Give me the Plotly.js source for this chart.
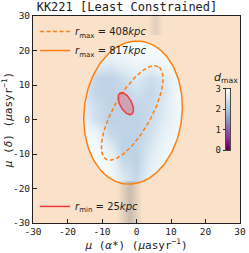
<!DOCTYPE html>
<html>
<head>
<meta charset="utf-8">
<script src="https://cdn.plot.ly/plotly-3.0.1.min.js"></script>
<style>html,body{margin:0;padding:0;background:#fff;}#chart{width:249px;height:253px;}</style>
</head>
<body>
<div id="chart"></div>
<script>
// ---- d_max field (coarse grid) ----
const xGrid = [-16, -12, -8, -4, 0, 4, 8, 12, 16];
const yGrid = [-20, -16, -12, -8, -4, 0, 4, 8, 12, 16, 20, 24];
const dmax = [
  [3.0, 3.0, 3.0, 2.65, 2.35, 2.85, 3.0, 3.0, 3.0],
  [3.0, 3.0, 2.95, 2.55, 2.3, 2.75, 2.95, 3.0, 3.0],
  [3.0, 3.0, 2.9, 2.35, 2.25, 2.65, 2.9, 3.0, 3.0],
  [3.0, 2.95, 2.65, 2.25, 2.25, 2.55, 2.85, 3.0, 3.0],
  [2.95, 2.85, 2.35, 2.25, 2.25, 2.45, 2.75, 2.95, 3.0],
  [2.8, 2.45, 2.25, 2.25, 2.25, 2.4, 2.65, 2.9, 3.0],
  [2.7, 2.4, 2.25, 2.25, 2.3, 2.35, 2.6, 2.9, 3.0],
  [2.6, 2.3, 2.25, 2.3, 2.45, 2.3, 2.55, 2.9, 3.0],
  [2.6, 2.3, 2.25, 2.4, 2.6, 2.4, 2.6, 2.9, 3.0],
  [2.9, 2.7, 2.55, 2.7, 2.85, 2.8, 2.9, 3.0, 3.0],
  [3.0, 3.0, 2.95, 2.95, 3.0, 3.0, 3.0, 3.0, 3.0],
  [3.0, 3.0, 3.0, 3.0, 3.0, 3.0, 3.0, 3.0, 3.0]
];
const cbarLevels = [0, 0.5, 1, 1.5, 2, 2.5, 3];
const cbarTicks = [0, 1, 2, 3];
const axisTicks = [-30, -20, -10, 0, 10, 20, 30];

// ---- contour ellipses ----
const contourNames = [
  '<i>r</i><sub>max</sub> = 408<i>kpc</i>',
  '<i>r</i><sub>max</sub> = 817<i>kpc</i>',
  '<i>r</i><sub>min</sub> = 25<i>kpc</i>'
];
const ellipseCx = [-1.25, -1.0, -3.1];
const ellipseCy = [1.9, 2.0, 4.6];
const ellipseA = [15.4, 20.8, 3.5];
const ellipseB = [5.5, 14.2, 1.7];
const ellipseAngle = [60.6, 84, 118];

// ---- faint streak regions ----
const streakBottomX = [-5.6, 1.8, 1.8, -5.6];
const streakBottomY = [-31, -31, -17.9, -17.9];
const streakTopX = [3.2, 7.8, 7.8, 3.2];
const streakTopY = [24.5, 24.5, 31, 31];

function ellipse(i, t0, dir) {
  const n = 180, xs = [], ys = [];
  const a = ellipseAngle[i] * Math.PI / 180;
  const ux = Math.cos(a), uy = Math.sin(a), vx = -Math.sin(a), vy = Math.cos(a);
  for (let k = 0; k <= n; k++) {
    const t = t0 + dir * 2 * Math.PI * k / n;
    const p = ellipseA[i] * Math.cos(t), q = ellipseB[i] * Math.sin(t);
    xs.push(ellipseCx[i] + p * ux + q * vx);
    ys.push(ellipseCy[i] + p * uy + q * vy);
  }
  return [xs, ys];
}

const peach = 'rgb(250,226,202)';
const orange = '#ff7f0e';
const bupu = [[0,'#4d004b'],[0.125,'#810f7c'],[0.25,'#88419d'],[0.375,'#8c6bb1'],[0.5,'#8c96c6'],[0.625,'#9ebcda'],[0.75,'#bfd3e6'],[0.875,'#e0ecf4'],[1,'#f7fcfd']];

// mask: big rectangle (ccw) with outer ellipse hole (cw)
const outerCW = ellipse(1, Math.PI, -1);
const sx = outerCW[0][0];
const maskX = [sx, 40, 40, -40, -40, sx].concat(outerCW[0]).concat([sx]);
const maskY = [-40, -40, 40, 40, -40, -40].concat(outerCW[1]).concat([-40]);

const e0 = ellipse(0, 0, 1), e1 = ellipse(1, 0, 1), e2 = ellipse(2, 0, 1);

const traces = [
  {type:'heatmap', x:xGrid, y:yGrid, z:dmax, zmin:0, zmax:3, colorscale:bupu, zsmooth:'best', showscale:false, hoverinfo:'skip'},
  {type:'heatmap', x:[0], y:cbarLevels, z:cbarLevels.map(v=>[v]), zmin:0, zmax:3, colorscale:bupu, zsmooth:'best', showscale:false, xaxis:'x2', yaxis:'y2', hoverinfo:'skip'},
  {type:'scatter', mode:'lines', x:maskX, y:maskY, fill:'toself', fillcolor:peach, line:{width:0, color:peach}, showlegend:false, hoverinfo:'skip'},
  {type:'scatter', mode:'lines', x:streakBottomX, y:streakBottomY, fill:'toself', line:{width:0}, showlegend:false, hoverinfo:'skip',
    fillgradient:{type:'horizontal', colorscale:[[0,'rgba(140,140,140,0)'],[0.5,'rgba(135,135,135,0.42)'],[1,'rgba(140,140,140,0)']]}},
  {type:'scatter', mode:'lines', x:streakTopX, y:streakTopY, fill:'toself', line:{width:0}, showlegend:false, hoverinfo:'skip',
    fillgradient:{type:'horizontal', colorscale:[[0,'rgba(140,140,140,0)'],[0.5,'rgba(140,140,140,0.22)'],[1,'rgba(140,140,140,0)']]}},
  {type:'scatter', mode:'lines', x:e2[0], y:e2[1], fill:'toself', fillcolor:'rgba(228,60,80,0.33)', line:{width:0}, showlegend:false, hoverinfo:'skip'},
  {type:'scatter', mode:'lines', x:e0[0], y:e0[1], name:contourNames[0], line:{color:orange, width:1.5, dash:'4px,2.5px'}, legend:'legend', hoverinfo:'skip'},
  {type:'scatter', mode:'lines', x:e1[0], y:e1[1], name:contourNames[1], line:{color:orange, width:1.5}, legend:'legend', hoverinfo:'skip'},
  {type:'scatter', mode:'lines', x:e2[0], y:e2[1], name:contourNames[2], line:{color:'#ee3b3b', width:1.5}, legend:'legend2', hoverinfo:'skip'}
];

const mono = 'DejaVu Sans Mono';
const axisCommon = {
  range:[-30,30], autorange:false, tickvals:axisTicks, ticktext:axisTicks.map(String),
  ticks:'inside', ticklen:4, tickwidth:1, tickcolor:'#222', showline:true, mirror:true, linecolor:'#222', linewidth:1,
  showgrid:false, zeroline:false, tickfont:{family:mono, size:9.5, color:'#222'}
};
const layout = {
  width:249, height:253,
  margin:{l:33, r:9, t:16, b:30, pad:0},
  paper_bgcolor:'#ffffff', plot_bgcolor:peach,
  title:{text:'KK221 [Least Constrained]', font:{family:mono, size:12, color:'#222'}, x:0.51, xref:'container', xanchor:'center', y:0.972, yref:'container', yanchor:'middle'},
  xaxis:Object.assign({}, axisCommon, {domain:[0,1], title:{text:'<i>μ</i> (<i>α</i>*) (<i>μ</i>asyr<sup>−1</sup>)', font:{family:mono, size:11, color:'#222'}, standoff:3}}),
  yaxis:Object.assign({}, axisCommon, {domain:[0,1], title:{text:'<i>μ</i> (<i>δ</i>) (<i>μ</i>asyr<sup>−1</sup>)', font:{family:mono, size:11, color:'#222'}, standoff:3}}),
  xaxis2:{domain:[0.932,0.952], anchor:'y2', range:[-0.5,0.5], showticklabels:false, ticks:'', showline:true, mirror:true, linecolor:'#222', linewidth:0.8, showgrid:false, zeroline:false},
  yaxis2:{domain:[0.351,0.650], anchor:'x2', range:[0,3], tickvals:cbarTicks, ticktext:cbarTicks.map(String), side:'left', ticks:'outside', ticklen:2.5, tickcolor:'#222', showline:true, mirror:true, linecolor:'#222', linewidth:0.8, showgrid:false, zeroline:false, tickfont:{family:mono, size:9, color:'#222'}},
  legend:{x:0.01, y:0.995, xanchor:'left', yanchor:'top', bgcolor:'rgba(0,0,0,0)', borderwidth:0, font:{family:'DejaVu Sans', size:10, color:'#222'}, tracegroupgap:0, itemwidth:30},
  legend2:{x:0.01, y:0.01, xanchor:'left', yanchor:'bottom', bgcolor:'rgba(0,0,0,0)', borderwidth:0, font:{family:'DejaVu Sans', size:10, color:'#222'}, itemwidth:30},
  annotations:[{text:'<i>d</i><sub>max</sub>', xref:'paper', yref:'paper', x:0.93, y:0.70, xanchor:'center', yanchor:'middle', showarrow:false, font:{family:'DejaVu Sans', size:11, color:'#222'}}],
  showlegend:true
};
Plotly.newPlot('chart', traces, layout, {staticPlot:true, displayModeBar:false});
</script>
</body>
</html>
